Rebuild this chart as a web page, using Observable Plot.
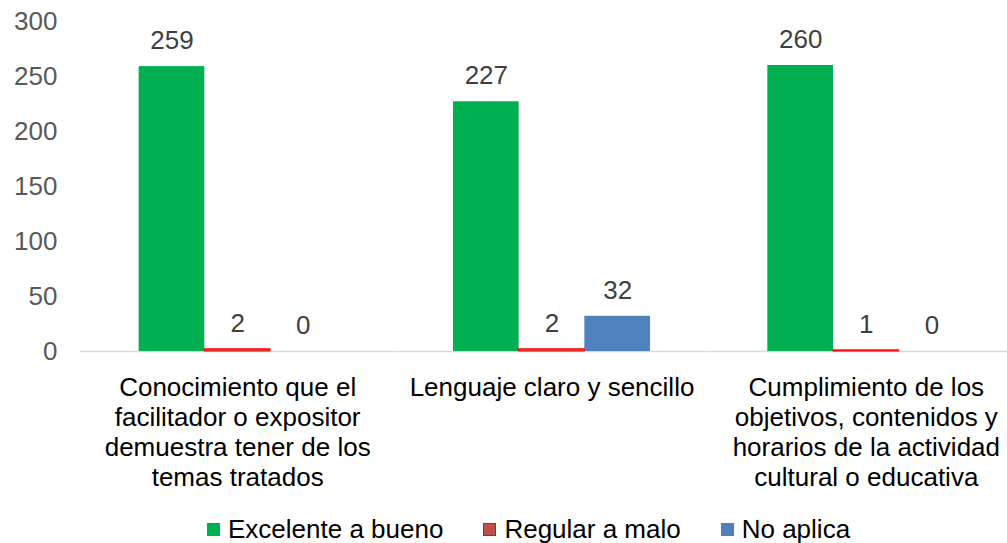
<!DOCTYPE html>
<html><head><meta charset="utf-8">
<script src="https://cdn.jsdelivr.net/npm/d3@7"></script>
<script src="https://cdn.jsdelivr.net/npm/@observablehq/plot@0.6"></script>
<style>
body{margin:0;background:#fff;font-family:"Liberation Sans",Arial,sans-serif;overflow:hidden;}
#chart svg{display:block;}
#legend{display:flex;align-items:center;height:30px;margin-left:207px;font-size:26px;color:#000;white-space:nowrap;}
.item{display:flex;align-items:center;margin-right:40px}
.sw{width:13px;height:13px;margin-right:8px;box-sizing:border-box}
</style></head><body><div id="chart"></div><div id="legend"></div>
<script>
const categories = [
  "Conocimiento que el facilitador o expositor demuestra tener de los temas tratados",
  "Lenguaje claro y sencillo",
  "Cumplimiento de los objetivos, contenidos y horarios de la actividad cultural o educativa"
];
const categoryLabels = [
  "Conocimiento que el\nfacilitador o expositor\ndemuestra tener de los\ntemas tratados",
  "Lenguaje claro y sencillo",
  "Cumplimiento de los\nobjetivos, contenidos y\nhorarios de la actividad\ncultural o educativa"
];
const series = ["Excelente a bueno", "Regular a malo", "No aplica"];
const excelente = [259, 227, 260];
const regular = [2, 2, 1];
const noAplica = [0, 32, 0];
const colors = ["#00B050", "#C0504D", "#4F81BD"];
const yTicks = [0, 50, 100, 150, 200, 250, 300];

const valuesBySeries = [excelente, regular, noAplica];
const data = categories.flatMap((cat, i) =>
  series.map((s, j) => ({cat, series: s, value: valuesBySeries[j][i]})));

const chart = Plot.plot({
  width: 1007, height: 514,
  marginLeft: 80, marginRight: -16, marginTop: 21, marginBottom: 163,
  style: {fontFamily: "'Liberation Sans', Arial, sans-serif", background: "white", overflow: "visible"},
  fx: {domain: categories, padding: 0, axis: null, round: false, label: null},
  x: {domain: series, paddingInner: 0, paddingOuter: 0.893, axis: null, round: false, label: null},
  y: {domain: [0, 300], axis: null, label: null},
  color: {domain: series, range: colors},
  marks: [
    Plot.ruleY([0], {stroke: "#D9D9D9", strokeWidth: 1.5}),
    Plot.barY(data, {fx: "cat", x: "series", y: "value", fill: "series", inset: 0}),
    Plot.barY(data.filter(d => d.series === series[1]), {fx: "cat", x: "series", y: "value", fill: colors[1], stroke: "#FF0000", strokeWidth: 1, inset: 0}),
    Plot.text(data, {fx: "cat", x: "series", y: "value", text: d => String(d.value), dy: -17.5, lineAnchor: "bottom", fill: "#404040", fontSize: 26}),
    Plot.text(categories, {fx: d => d, text: (d, i) => categoryLabels[i], frameAnchor: "bottom", lineAnchor: "top", dy: 22.5, lineHeight: 1.165, fontSize: 26, fill: "#000"}),
    Plot.axisY({ticks: yTicks, tickSize: 0, tickPadding: 23, fontSize: 26, fill: "#595959", label: null})
  ]
});
document.getElementById("chart").appendChild(chart);

const legend = document.getElementById("legend");
series.forEach((s, i) => {
  const item = document.createElement("div");
  item.className = "item";
  const sw = document.createElement("div");
  sw.className = "sw";
  sw.style.background = colors[i];
  if (i === 1) sw.style.border = "1.5px solid #FF0000";
  const t = document.createElement("span");
  t.textContent = s;
  item.appendChild(sw); item.appendChild(t);
  legend.appendChild(item);
});
</script></body></html>
